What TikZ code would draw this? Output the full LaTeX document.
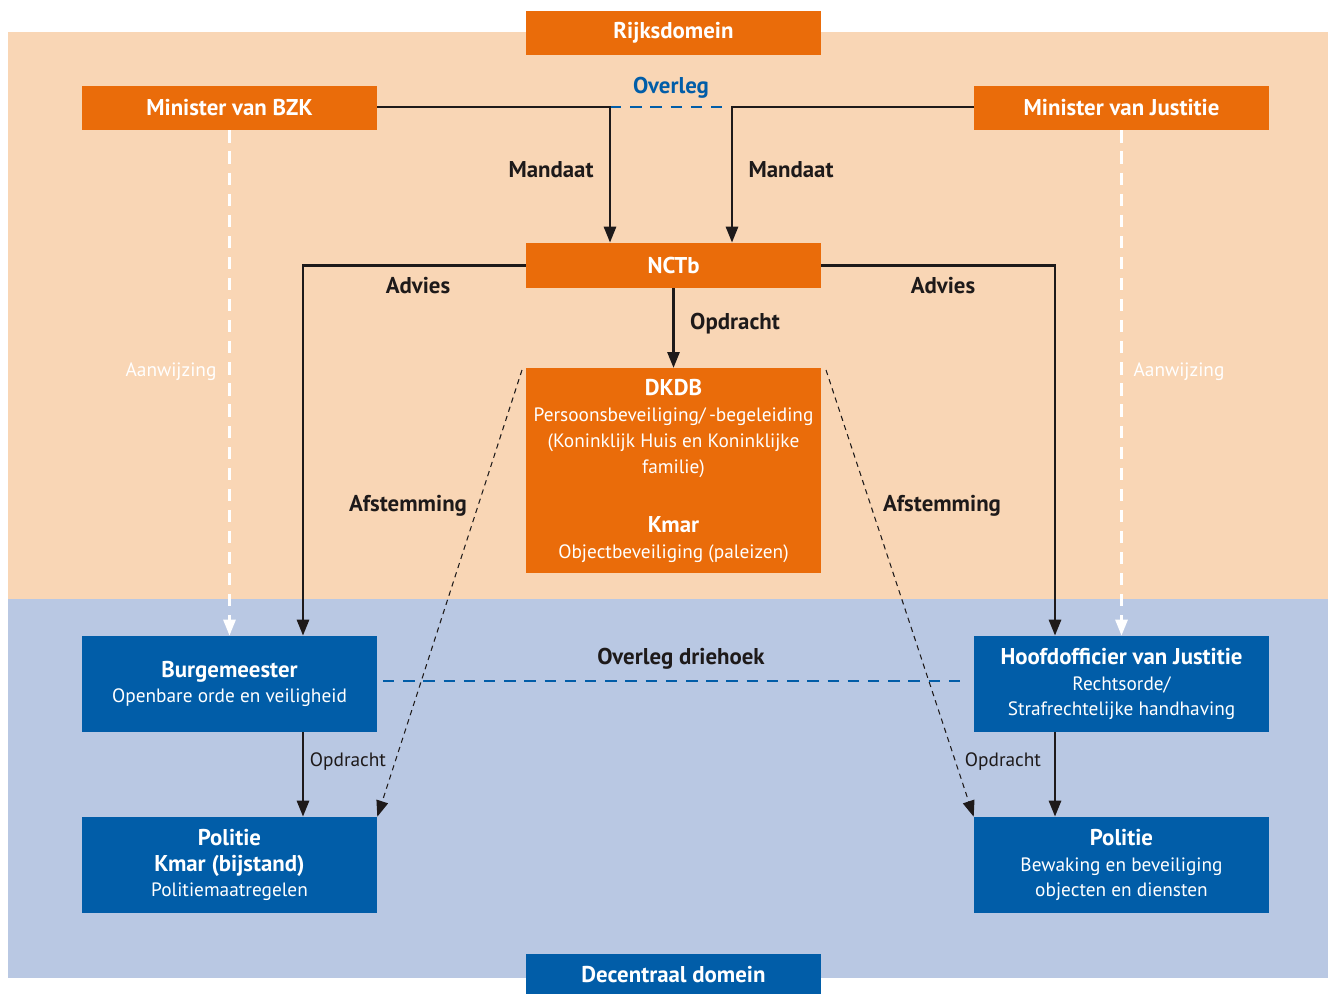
\documentclass[tikz,border=0pt]{standalone}
\usepackage{fontspec}
\setmainfont{PT Sans}
\usetikzlibrary{arrows.meta}
\definecolor{rkoranje}{HTML}{EA6C0A}
\definecolor{rkperzik}{HTML}{F9D6B5}
\definecolor{rkblauw}{HTML}{015DA8}
\definecolor{rklicht}{HTML}{B9C8E3}
\definecolor{rkzwart}{HTML}{1E1A1A}
\tikzset{
  box/.style={text=white,minimum width=5.9cm,align=center,inner sep=0pt,
    font=\fontsize{11}{14.7}\selectfont},
  obox/.style={box,fill=rkoranje},
  bbox/.style={box,fill=rkblauw,minimum height=1.92cm},
  lbl/.style={text=rkzwart,font=\bfseries\fontsize{13}{15}\selectfont},
  pijl/.style={draw=rkzwart,line width=1.6pt,-{Triangle[length=3.2mm,width=2.4mm]}},
  stip/.style={draw=rkzwart,line width=0.6pt,dash pattern=on 3pt off 2.5pt,-{Triangle[length=3.2mm,width=2.4mm]}},
  wit/.style={draw=white,line width=1.6pt,dash pattern=on 7pt off 5pt,-{Triangle[length=3.2mm,width=2.4mm]}},
  overleg/.style={draw=rkblauw,line width=1.6pt,dash pattern=on 6.5pt off 5pt}
}
\newcommand{\kop}[1]{{\bfseries\fontsize{13}{14.7}\selectfont #1}}
\begin{document}
\begin{tikzpicture}[x=0.02cm,y=-0.02cm]
\useasboundingbox (0,0) rectangle (1328,994);
% domeinen
\fill[rkperzik] (8,32) rectangle (1328,599);
\fill[rklicht] (8,599) rectangle (1328,978);
% blokken
\node[obox,minimum height=0.88cm] (rijk) at (673.5,33) {\kop{Rijksdomein}};
\node[obox,minimum height=0.88cm] (bzk) at (229.5,108) {\kop{Minister van BZK}};
\node[obox,minimum height=0.88cm] (jus) at (1121.5,108) {\kop{Minister van Justitie}};
\node[obox,minimum height=0.9cm] (nctb) at (673.5,265.5) {\kop{NCTb}};
\node[obox,minimum height=4.1cm,anchor=north] (dkdb) at (673.5,368) {\kop{DKDB}\\
  Persoonsbeveiliging/\,-begeleiding\\(Koninklijk Huis en Koninklijke\\familie)\\[19pt]
  \kop{Kmar}\\Objectbeveiliging (paleizen)};
\node[bbox] (burg) at (229.5,684) {\kop{Burgemeester}\\Openbare orde en veiligheid};
\node[bbox] (hov) at (1121.5,684) {\kop{Hoofdofficier van Justitie}\\Rechtsorde/\\Strafrechtelijke handhaving};
\node[bbox] (pol1) at (229.5,865) {\kop{Politie}\\\kop{Kmar (bijstand)}\\Politiemaatregelen};
\node[bbox] (pol2) at (1121.5,865) {\kop{Politie}\\Bewaking en beveiliging\\objecten en diensten};
\node[box,fill=rkblauw,minimum height=0.8cm,anchor=north] (dec) at (673.5,954) {\kop{Decentraal domein}};
% verbindingen
\coordinate (m1) at (610,107);
\coordinate (m2) at (732,107);
\draw[overleg] (m1) -- (m2) node[midway,above=1pt,text=rkblauw,font=\bfseries\fontsize{13}{15}\selectfont] (ovl) {Overleg};
\draw[pijl] (bzk.east |- m1) -- (m1) -- (m1 |- nctb.north);
\draw[pijl] (jus.west |- m2) -- (m2) -- (m2 |- nctb.north);
\node[lbl] (mand1) at (551,170) {Mandaat};
\node[lbl] (mand2) at (791,170) {Mandaat};
\draw[pijl] (nctb.west) -| (303,0 |- burg.north);
\draw[pijl] (nctb.east) -| (1055,0 |- hov.north);
\node[lbl] (adv1) at (418,286) {Advies};
\node[lbl] (adv2) at (943,286) {Advies};
\draw[pijl] (nctb.south) -- (dkdb.north);
\node[lbl] (opd) at (735,324) {Opdracht};
\draw[wit] (bzk.south) -- (burg.north);
\draw[wit] (jus.south) -- (hov.north);
\node[text=white,font=\fontsize{11}{14}\selectfont] (aw1) at (171,372) {Aanwijzing};
\node[text=white,font=\fontsize{11}{14}\selectfont] (aw2) at (1179,372) {Aanwijzing};
\coordinate (af1) at (522,370);
\coordinate (af2) at (826,370);
\draw[stip] (af1) -- (pol1.north east);
\draw[stip] (af2) -- (pol2.north west);
\node[lbl] (afs1) at (408,506) {Afstemming};
\node[lbl] (afs2) at (942,506) {Afstemming};
\coordinate (d1) at (383,681);
\coordinate (d2) at (966,681);
\draw[overleg] (d1) -- (d2);
\node[lbl] (drie) at (681,659) {Overleg driehoek};
\draw[pijl] (303,0 |- burg.south) -- (303,0 |- pol1.north);
\draw[pijl] (1055,0 |- hov.south) -- (1055,0 |- pol2.north);
\node[text=rkzwart,font=\fontsize{11}{14}\selectfont] (opd1) at (348,762) {Opdracht};
\node[text=rkzwart,font=\fontsize{11}{14}\selectfont] (opd2) at (1003,762) {Opdracht};
\end{tikzpicture}
\end{document}
